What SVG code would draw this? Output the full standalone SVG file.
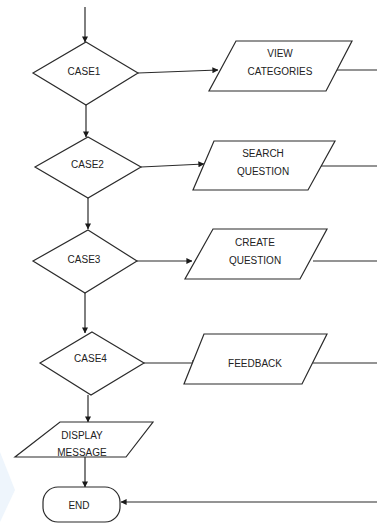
<svg xmlns="http://www.w3.org/2000/svg" width="377" height="525" viewBox="0 0 377 525">
<style>
.s{fill:#fff;stroke:#2b2b2b;stroke-width:1.2}
.c{fill:none;stroke:#2b2b2b;stroke-width:1.2}
text{font-family:"Liberation Sans",Arial,sans-serif;font-size:10px;fill:#222;text-anchor:middle}
</style>
<defs>
<marker id="ah" viewBox="0 0 8 8" refX="7.5" refY="4" markerWidth="6" markerHeight="6" markerUnits="userSpaceOnUse" orient="auto">
<path d="M0,0 L8,4 L0,8 Z" fill="#1a1a1a"/>
</marker>
</defs>
<rect width="377" height="525" fill="#fff"/>
<polygon points="0,452 15,490 0,522" fill="#eef5fc"/>
<g id="connectors">
<line class="c" x1="85" y1="7" x2="85" y2="42" marker-end="url(#ah)"/>
<line class="c" x1="138" y1="73" x2="218" y2="70" marker-end="url(#ah)"/>
<line class="c" x1="335" y1="70" x2="377" y2="70"/>
<line class="c" x1="86" y1="105" x2="86" y2="137" marker-end="url(#ah)"/>
<line class="c" x1="141" y1="167" x2="204" y2="164" marker-end="url(#ah)"/>
<line class="c" x1="318" y1="166" x2="377" y2="166"/>
<line class="c" x1="88" y1="198" x2="88" y2="229" marker-end="url(#ah)"/>
<line class="c" x1="137" y1="261" x2="192" y2="261" marker-end="url(#ah)"/>
<line class="c" x1="313" y1="261" x2="377" y2="261"/>
<line class="c" x1="85" y1="293" x2="85" y2="333" marker-end="url(#ah)"/>
<line class="c" x1="144" y1="363" x2="198" y2="363" marker-end="url(#ah)"/>
<line class="c" x1="313" y1="363" x2="377" y2="363"/>
<line class="c" x1="88" y1="395" x2="88" y2="422" marker-end="url(#ah)"/>
<line class="c" x1="85" y1="457" x2="85" y2="487" marker-end="url(#ah)"/>
<line class="c" x1="377" y1="502" x2="121" y2="502" marker-end="url(#ah)"/>
</g>
<g id="case1">
<polygon class="s" points="86,42 138,73 86,105 33,73"/>
<text x="84" y="74.5">CASE1</text>
</g>
<g id="view-categories">
<polygon class="s" points="236,41 352,41 326,91 209,91"/>
<text x="280" y="56.5">VIEW</text>
<text x="280" y="75">CATEGORIES</text>
</g>
<g id="case2">
<polygon class="s" points="88,137 141,167 88,198 35,167"/>
<text x="87.5" y="168">CASE2</text>
</g>
<g id="search-question">
<polygon class="s" points="214,141 335,141 308,190 193,190"/>
<text x="263" y="157">SEARCH</text>
<text x="263" y="174.5">QUESTION</text>
</g>
<g id="case3">
<polygon class="s" points="88,230 137,261 85,293 33,261"/>
<text x="84" y="263">CASE3</text>
</g>
<g id="create-question">
<polygon class="s" points="213,229 327,229 300,279 185,279"/>
<text x="255" y="245.5">CREATE</text>
<text x="255" y="263.5">QUESTION</text>
</g>
<g id="case4">
<polygon class="s" points="92,332 144,363 91,395 40,363"/>
<text x="90.5" y="362">CASE4</text>
</g>
<g id="feedback">
<polygon class="s" points="204,334 327,334 302,384 184,384"/>
<text x="255" y="367">FEEDBACK</text>
</g>
<g id="display-message">
<polygon class="s" points="60,422 153,422 126,457 15,457"/>
<text x="82" y="438.5">DISPLAY</text>
<text x="82" y="456">MESSAGE</text>
</g>
<g id="end">
<rect class="s" x="43" y="487" width="77" height="35" rx="15" ry="15"/>
<text x="79" y="508.5">END</text>
</g>
</svg>
